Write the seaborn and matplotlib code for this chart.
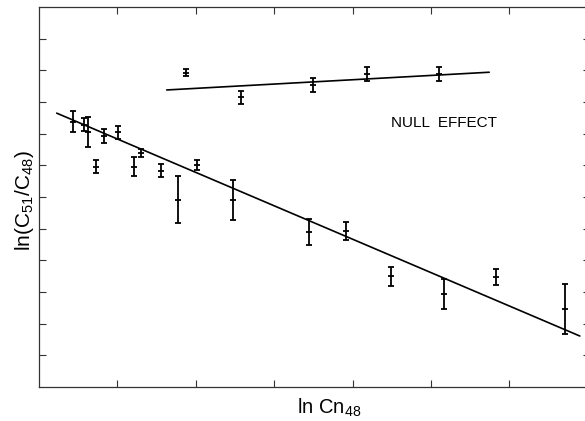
import matplotlib
matplotlib.use("Agg")
import matplotlib.pyplot as plt
import seaborn as sns
import pandas as pd

# ---- data (arbitrary units; the original has no tick labels) ----
main_x = [0.44, 0.57, 0.63, 0.73, 0.83, 1.01, 1.21, 1.30, 1.56, 1.77, 2.01, 2.47,
          3.45, 3.92, 4.49, 5.17, 5.83, 6.71]
main_y = [8.38, 8.28, 8.06, 6.96, 7.93, 8.04, 6.96, 7.38, 6.83, 5.91, 7.01, 5.91,
          4.89, 4.93, 3.49, 2.94, 3.47, 2.46]
main_err = [0.33, 0.21, 0.48, 0.21, 0.23, 0.21, 0.29, 0.13, 0.21, 0.74, 0.17, 0.63,
            0.42, 0.28, 0.30, 0.47, 0.26, 0.78]

null_x = [1.88, 2.58, 3.49, 4.18, 5.10]
null_y = [9.93, 9.15, 9.54, 9.89, 9.89]
null_err = [0.11, 0.21, 0.21, 0.22, 0.23]

main_fit_x = [0.226, 6.90]
main_fit_y = [8.648, 1.61]
null_fit_x = [1.63, 5.744]
null_fit_y = [9.38, 9.94]

x_ticks = [1, 2, 3, 4, 5, 6]
y_ticks = [1, 2, 3, 4, 5, 6, 7, 8, 9, 10, 11]

sns.set_style("ticks")
plt.rcParams["font.family"] = ["Liberation Sans", "DejaVu Sans"]
plt.rcParams["mathtext.default"] = "regular"

fig = plt.figure(figsize=(5.85, 4.21), dpi=100)
ax = fig.add_axes([39 / 585, 34 / 421, 551 / 585, 380 / 421])

df_main = pd.DataFrame({"x": main_x, "y": main_y})
df_null = pd.DataFrame({"x": null_x, "y": null_y})
df_mfit = pd.DataFrame({"x": main_fit_x, "y": main_fit_y})
df_nfit = pd.DataFrame({"x": null_fit_x, "y": null_fit_y})

# fitted lines
sns.lineplot(data=df_mfit, x="x", y="y", ax=ax, color="black", lw=1.2)
sns.lineplot(data=df_nfit, x="x", y="y", ax=ax, color="black", lw=1.2)

# error bars
ax.errorbar(main_x, main_y, yerr=main_err, fmt="none", ecolor="black",
            elinewidth=1.3, capsize=2.4, capthick=1.3)
ax.errorbar(null_x, null_y, yerr=null_err, fmt="none", ecolor="black",
            elinewidth=1.3, capsize=2.4, capthick=1.3)

# center marks
sns.scatterplot(data=df_main, x="x", y="y", ax=ax, marker="_", s=18,
                color="black", linewidth=1.3)
sns.scatterplot(data=df_null, x="x", y="y", ax=ax, marker="_", s=18,
                color="black", linewidth=1.3)

ax.set_xlim(0, 7.03)
ax.set_ylim(0, 12)
ax.set_xticks(x_ticks)
ax.set_yticks(y_ticks)
ax.set_xticklabels([])
ax.set_yticklabels([])
ax.tick_params(direction="in", length=5, width=0.8, color="#333333",
               top=True, right=True, bottom=True, left=True)
for sp in ax.spines.values():
    sp.set_visible(True)
    sp.set_linewidth(0.9)
    sp.set_color("#333333")
ax.set_xlabel("")
ax.set_ylabel("")

ax.text(4.49, 8.33, "NULL  EFFECT", ha="left", va="center", fontsize=11,
        color="black")

fig.text(297 / 585, 1 - 414 / 421, "ln Cn$_{48}$", ha="left", va="baseline",
         fontsize=14.5, color="black")
fig.text(25 / 585, 1 - 201 / 421, "ln(C$_{51}$/C$_{48}$)", rotation=90,
         ha="center", va="center", fontsize=15, color="black")

fig.savefig("out.png", dpi=100, facecolor="white")
